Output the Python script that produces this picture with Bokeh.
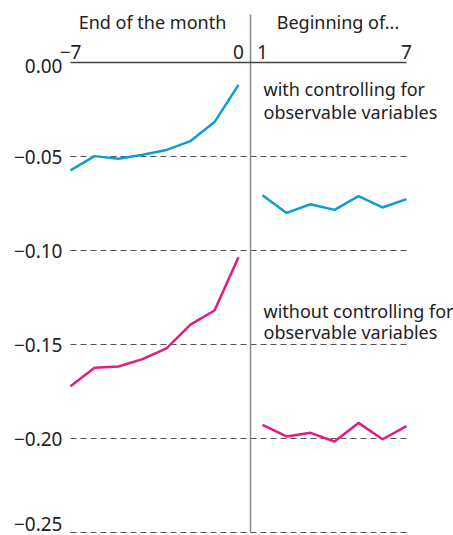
from bokeh.plotting import figure
from bokeh.models import Range1d, FixedTicker, LinearAxis, Label
from bokeh.embed import file_html
from bokeh.resources import INLINE

# ---- data ----
days_end = [-7, -6, -5, -4, -3, -2, -1, 0]
days_begin = [1, 2, 3, 4, 5, 6, 7]
with_ctrl_end = [-0.0574, -0.0498, -0.0512, -0.0491, -0.0465, -0.0418, -0.0317, -0.0119]
with_ctrl_begin = [-0.0706, -0.0800, -0.0754, -0.0784, -0.0711, -0.0771, -0.0727]
without_ctrl_end = [-0.1722, -0.1624, -0.1617, -0.1578, -0.1521, -0.1394, -0.1319, -0.1036]
without_ctrl_begin = [-0.1927, -0.1989, -0.1970, -0.2016, -0.1917, -0.2004, -0.1934]
y_ticks = [0.0, -0.05, -0.10, -0.15, -0.20, -0.25]
y_tick_labels = ["0.00", "\u22120.05", "\u22120.10", "\u22120.15", "\u22120.20", "\u22120.25"]
x_ticks = [-7, 0, 1, 7]
x_tick_labels = ["\u22127", "0", "1", "7"]
headers = ["End of the month", "Beginning of..."]
with_label = ["with controlling for", "observable variables"]
without_label = ["without controlling for", "observable variables"]

FONT = "Noto Sans"
BLUE = "#0a9fd3"
MAGENTA = "#e31b80"
TXT = "#222222"

PX_PER_X = 24.0
PX_PER_Y = 1880.0
LEFT_PX = 70          # where x = -7 sits
TOP_PX = 62           # where y = 0 sits
x_lo = x_ticks[0] - LEFT_PX / PX_PER_X
x_hi = x_ticks[0] + (453 - LEFT_PX) / PX_PER_X
y_hi = TOP_PX / PX_PER_Y
y_lo = -(535 - TOP_PX) / PX_PER_Y

p = figure(width=453, height=535, output_backend="svg", toolbar_location=None,
           x_range=Range1d(x_lo, x_hi), y_range=Range1d(y_lo, y_hi),
           min_border_left=0, min_border_right=0, min_border_top=0, min_border_bottom=0,
           x_axis_location=None, y_axis_location=None)
p.outline_line_color = None
p.background_fill_color = "white"
p.border_fill_color = "white"
p.xgrid.visible = False
p.ygrid.visible = False

# vertical label placement tweaks (pixels, + = down) so the first and last labels
# sit like the original's and stay inside the canvas
label_shift_px = {0: 3.5, len(y_ticks) - 1: -9.0}
y_label_pos = [t - label_shift_px.get(i, 0.0) / PX_PER_Y for i, t in enumerate(y_ticks)]

# left axis, on the x = -7 edge
ya = LinearAxis(ticker=FixedTicker(ticks=y_label_pos), fixed_location=x_ticks[0],
                major_label_overrides=dict(zip(y_label_pos, y_tick_labels)),
                axis_line_color=None, major_tick_line_color=None, minor_tick_line_color=None,
                major_tick_out=0, major_tick_in=0,
                major_label_standoff=8, major_label_text_font=FONT,
                major_label_text_font_size="19px", major_label_text_color=TXT)
p.add_layout(ya, "left")

# top axis, sitting on the 0.00 line
xa = LinearAxis(ticker=FixedTicker(ticks=x_ticks), fixed_location=y_ticks[0],
                bounds=(x_ticks[0], x_ticks[-1]),
                major_label_overrides=dict(zip(x_ticks, x_tick_labels)),
                axis_line_color="#444444", axis_line_width=1.5,
                major_tick_line_color=None, minor_tick_line_color=None,
                major_tick_out=0, major_tick_in=0,
                major_label_standoff=4, major_label_text_font=FONT,
                major_label_text_font_size="19px", major_label_text_color=TXT)
p.add_layout(xa, "above")

# dashed gridlines from -7 to 7
g = y_ticks[1:]
p.segment(x0=[x_ticks[0]] * len(g), x1=[x_ticks[-1]] * len(g), y0=g, y1=g,
          line_color="#555555", line_dash="6 4", line_width=1)

# divider between the two periods
p.segment(x0=[0.5], x1=[0.5], y0=[y_ticks[-1]], y1=[0.0255],
          line_color="#888888", line_width=1.5)

# series
p.line(days_end, with_ctrl_end, line_color=BLUE, line_width=2.5)
p.line(days_begin, with_ctrl_begin, line_color=BLUE, line_width=2.5)
p.line(days_end, without_ctrl_end, line_color=MAGENTA, line_width=2.5)
p.line(days_begin, without_ctrl_begin, line_color=MAGENTA, line_width=2.5)

TEXT_UP = 6 / PX_PER_Y   # baseline correction for the annotation texts

def lab(x, y, t, align="left"):
    p.add_layout(Label(x=x, y=y + TEXT_UP, text=t, text_align=align,
                       text_baseline="alphabetic", text_font=FONT,
                       text_font_size="18px", text_color=TXT))

lab(-3.583, 0.0181, headers[0], "center")
lab(4.146, 0.0181, headers[1], "center")
lab(1.042, -0.01755, with_label[0])
lab(1.042, -0.02926, with_label[1])
lab(1.042, -0.1356, without_label[0])
lab(1.042, -0.1468, without_label[1])

open("out.html", "w").write(file_html(p, INLINE))
